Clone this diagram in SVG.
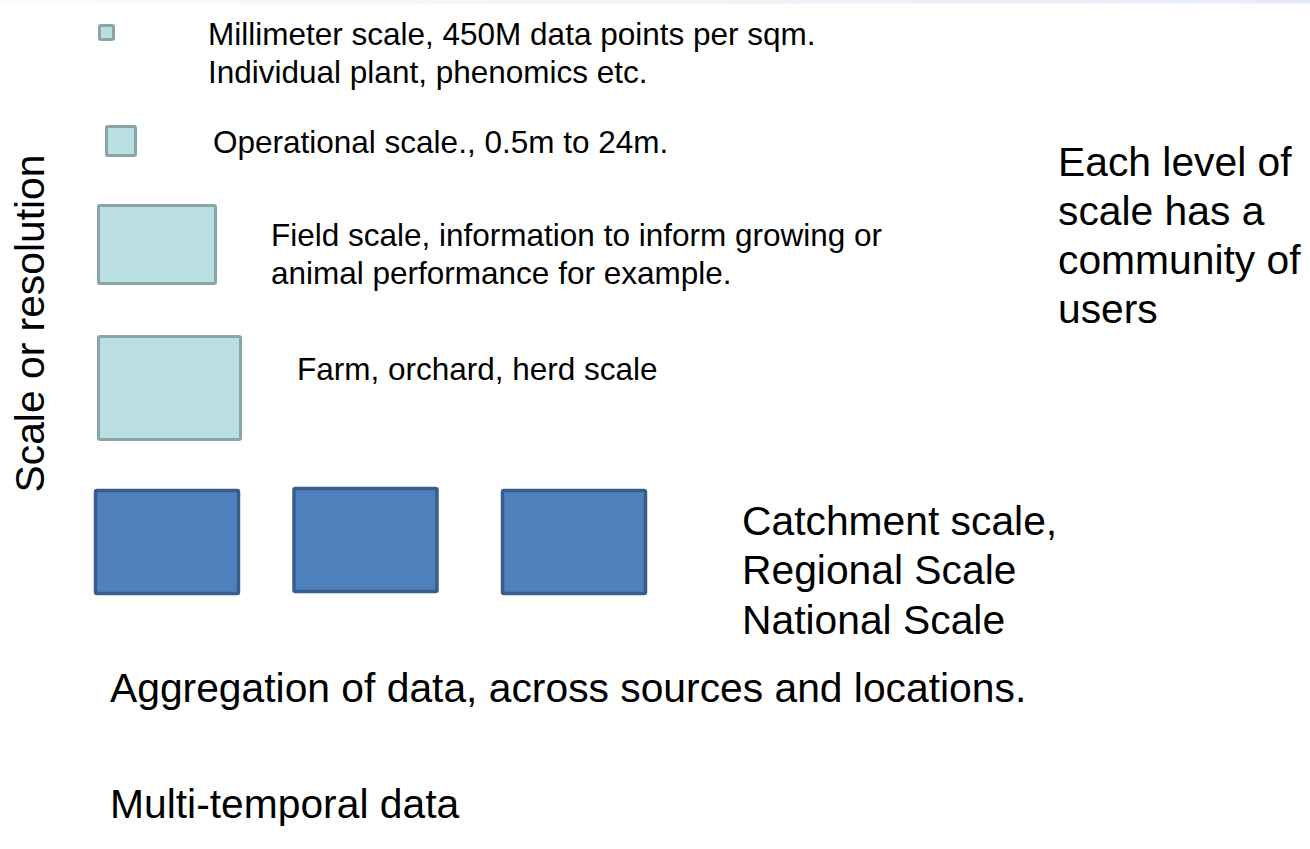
<svg xmlns="http://www.w3.org/2000/svg" width="1310" height="849" viewBox="0 0 1310 849">
<defs>
<linearGradient id="topband" x1="0" y1="0" x2="1" y2="0">
<stop offset="0" stop-color="#F8FAFD"/>
<stop offset="1" stop-color="#E4EDF7"/>
</linearGradient>
</defs>
<style>
.t{font-family:"Liberation Sans",Arial,sans-serif;fill:#000}
.s{font-size:31.5px}
.l{font-size:40.8px}
.light{fill:#BADFE2;stroke:#89A5A7;stroke-width:3}
.dark{fill:#4F81BD;stroke:#385D8A;stroke-width:3.5}
</style>
<rect x="0" y="0" width="1310" height="849" fill="#FFFFFF"/>
<rect x="0" y="0" width="1310" height="3.5" fill="url(#topband)"/>
<g id="axis-label">
<text class="t l" transform="translate(44,323.5) rotate(-90)" text-anchor="middle">Scale or resolution</text>
</g>
<g id="millimeter">
<rect class="light" x="99.5" y="25.5" width="14" height="14" rx="1.5"/>
<text class="t s" x="208" y="45">Millimeter scale, 450M data points per sqm.</text>
<text class="t s" x="208" y="83">Individual plant, phenomics etc.</text>
</g>
<g id="operational">
<rect class="light" x="106.5" y="126.5" width="29" height="29" rx="1.5"/>
<text class="t s" x="213" y="153">Operational scale., 0.5m to 24m.</text>
</g>
<g id="field">
<rect class="light" x="98.5" y="205.5" width="117" height="78" rx="1.5"/>
<text class="t s" x="271" y="246">Field scale, information to inform growing or</text>
<text class="t s" x="271" y="284">animal performance for example.</text>
</g>
<g id="farm">
<rect class="light" x="98.5" y="336.5" width="142" height="103" rx="1.5"/>
<text class="t s" x="297" y="380">Farm, orchard, herd scale</text>
</g>
<g id="catchment">
<rect class="dark" x="95.5" y="490.5" width="143" height="103" rx="1.5"/>
<rect class="dark" x="294" y="488.5" width="143" height="103" rx="1.5"/>
<rect class="dark" x="502.5" y="490.5" width="143" height="103" rx="1.5"/>
<text class="t l" x="742" y="535">Catchment scale,</text>
<text class="t l" x="742" y="584">Regional Scale</text>
<text class="t l" x="742" y="634">National Scale</text>
</g>
<g id="community">
<text class="t l" x="1058" y="176">Each level of</text>
<text class="t l" x="1058" y="225">scale has a</text>
<text class="t l" x="1058" y="274">community of</text>
<text class="t l" x="1058" y="323">users</text>
</g>
<g id="aggregation">
<text class="t l" x="110" y="702">Aggregation of data, across sources and locations.</text>
</g>
<g id="temporal">
<text class="t l" x="110" y="818">Multi-temporal data</text>
</g>
<g id="connectors"></g>
</svg>
